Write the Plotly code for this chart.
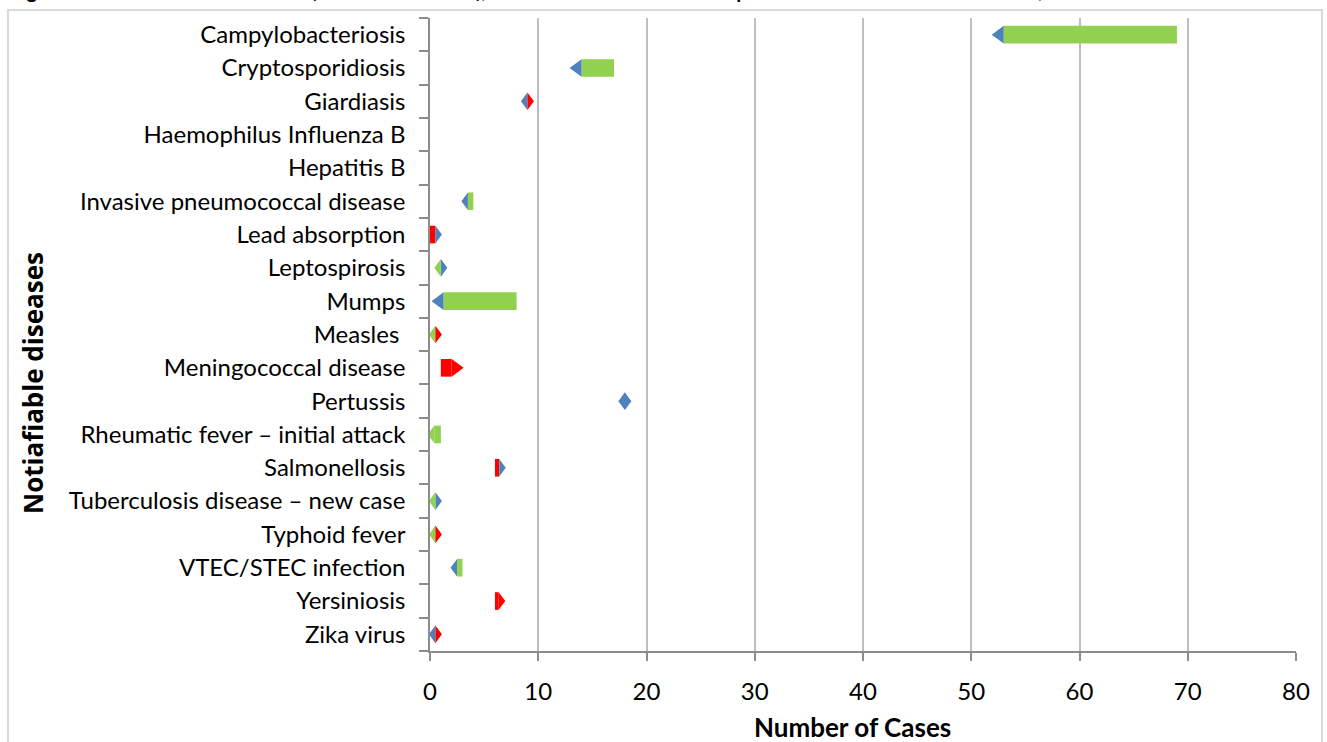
import plotly.graph_objects as go

# ---------------- data ----------------
diseases = [
    "Campylobacteriosis",
    "Cryptosporidiosis",
    "Giardiasis",
    "Haemophilus Influenza B",
    "Hepatitis B",
    "Invasive pneumococcal disease",
    "Lead absorption",
    "Leptospirosis",
    "Mumps",
    "Measles\u00a0",
    "Meningococcal disease",
    "Pertussis",
    "Rheumatic fever \u2013 initial attack",
    "Salmonellosis",
    "Tuberculosis disease \u2013 new case",
    "Typhoid fever",
    "VTEC/STEC infection",
    "Yersiniosis",
    "Zika virus",
]
# start and end of each range (number of cases)
low_values = [53, 14, 9, None, None, 3.5, 0, 1, 1.25, 0.5, 1, 18, 0.4, 6, 0.5, 0.5, 2.5, 6, 0.5]
high_values = [69, 17, 9, None, None, 4, 0.5, 1, 8, 0.5, 2, 18, 1, 6.4, 0.5, 0.5, 3, 6.35, 0.5]
# series code of the bar between the two values, and of the pointer at each end
bar_series = ["G", "G", "", "", "", "G", "R", "", "G", "", "R", "", "G", "R", "", "", "G", "R", ""]
left_series = ["B", "B", "B", "", "", "B", "", "G", "B", "G", "", "B", "G", "", "G", "G", "B", "", "B"]
right_series = ["", "", "R", "", "", "", "B", "B", "", "R", "R", "B", "", "B", "B", "R", "", "R", "R"]

x_tick_values = [0, 10, 20, 30, 40, 50, 60, 70, 80]
x_title = "Number of Cases"
y_title = "Notiafiable diseases"
fig_title = ("Figure 1: Notifiable disease totals (1\u201331 March 2019), the total notified cases "
             "compared with the last twelve months, and the last six months")

# ---------------- style ----------------
W, H = 1327, 742
PLOT_L, PLOT_R, PLOT_T, PLOT_B = 430, 1296, 18, 651
plot_w = PLOT_R - PLOT_L
plot_h = PLOT_B - PLOT_T
X_MAX = 80
px_per_unit = plot_w / X_MAX

colors = {"B": "#4F81BD", "G": "#92D050", "R": "#FF0000"}
BAR_H = 0.53          # in category units
FONT = "Lato"


def px_to_paper_x(px):
    return (px - PLOT_L) / plot_w


def px_to_paper_y(py):
    return (PLOT_B - py) / plot_h


fig = go.Figure()

y_idx = list(range(len(diseases)))

# bars (floating, from low to high)
for code in ["G", "R"]:
    ys, bases, lens = [], [], []
    for i in y_idx:
        if bar_series[i] == code and low_values[i] is not None:
            ys.append(i)
            bases.append(low_values[i])
            lens.append(high_values[i] - low_values[i])
    fig.add_trace(go.Bar(
        y=ys, x=lens, base=bases, orientation="h", width=BAR_H,
        marker=dict(color=colors[code], line=dict(width=0)),
        hoverinfo="skip", showlegend=False,
    ))


def pointer_width_units(i):
    span_px = (high_values[i] - low_values[i]) * px_per_unit
    wpx = 12 if span_px >= 10 else 6.5
    return wpx / px_per_unit


# pointer half-diamonds at each end
for code in ["B", "G", "R"]:
    xs, ys = [], []
    for i in y_idx:
        if low_values[i] is None:
            continue
        w = pointer_width_units(i)
        if left_series[i] == code:
            v = low_values[i]
            xs += [v, v - w, v, v, None]
            ys += [i - BAR_H / 2, i, i + BAR_H / 2, i - BAR_H / 2, None]
        if right_series[i] == code:
            v = high_values[i]
            xs += [v, v + w, v, v, None]
            ys += [i - BAR_H / 2, i, i + BAR_H / 2, i - BAR_H / 2, None]
    fig.add_trace(go.Scatter(
        x=xs, y=ys, mode="lines", fill="toself",
        fillcolor=colors[code], line=dict(width=0, color=colors[code]),
        hoverinfo="skip", showlegend=False,
    ))

AXIS_COL = "#8C8C8C"
GRID_COL = "#BFBFBF"

fig.update_layout(
    width=W, height=H,
    margin=dict(l=PLOT_L, r=W - PLOT_R, t=PLOT_T, b=H - PLOT_B, pad=0),
    paper_bgcolor="white", plot_bgcolor="white",
    barmode="overlay",
    font=dict(family=FONT, size=24, color="#000000"),
    xaxis=dict(
        range=[0, X_MAX], tickvals=x_tick_values,
        showgrid=True, gridcolor=GRID_COL, gridwidth=1.5,
        showline=True, linecolor=AXIS_COL, linewidth=1.5,
        ticks="outside", ticklen=8, tickcolor=AXIS_COL, tickwidth=1.5,
        ticklabelstandoff=10,
        tickfont=dict(family=FONT, size=24, color="#000000"),
        zeroline=False, fixedrange=True,
    ),
    yaxis=dict(
        range=[len(diseases) - 0.5, -0.5],
        tickmode="array", tickvals=y_idx, ticktext=diseases,
        ticks="", showgrid=False,
        showline=True, linecolor=AXIS_COL, linewidth=1.5,
        ticklabelstandoff=18,
        tickfont=dict(family=FONT, size=24, color="#000000"),
        minor=dict(tickmode="array",
                   tickvals=[i - 0.5 for i in range(len(diseases) + 1)],
                   ticks="outside", ticklen=9, tickcolor=AXIS_COL, tickwidth=1.5,
                   showgrid=False),
        zeroline=False, fixedrange=True,
    ),
    shapes=[dict(
        type="rect", xref="paper", yref="paper",
        x0=px_to_paper_x(8), x1=px_to_paper_x(1322),
        y0=px_to_paper_y(770), y1=px_to_paper_y(10),
        line=dict(color="#D9D9D9", width=2), fillcolor="rgba(0,0,0,0)", layer="below",
    )],
    annotations=[
        dict(text=f"<b>{x_title}</b>", xref="paper", yref="paper",
             x=px_to_paper_x(852), y=px_to_paper_y(727),
             xanchor="center", yanchor="middle", showarrow=False,
             font=dict(family=FONT, size=26, color="#000000")),
        dict(text=f"<b>{y_title}</b>", xref="paper", yref="paper",
             x=px_to_paper_x(33), y=px_to_paper_y(383), textangle=-90,
             xanchor="center", yanchor="middle", showarrow=False,
             font=dict(family="Open Sans", size=26, color="#000000")),
        dict(text=f"<b>{fig_title}</b>", xref="paper", yref="paper",
             x=px_to_paper_x(8), y=px_to_paper_y(4),
             xanchor="left", yanchor="bottom", showarrow=False,
             font=dict(family=FONT, size=20, color="#000000")),
    ],
)

fig.write_html(
    "out.html",
    config={"displayModeBar": False},
    post_script="document.documentElement.style.margin='0';"
                "document.body.style.margin='0';document.body.style.padding='0';"
                "document.body.style.overflow='hidden';",
)
